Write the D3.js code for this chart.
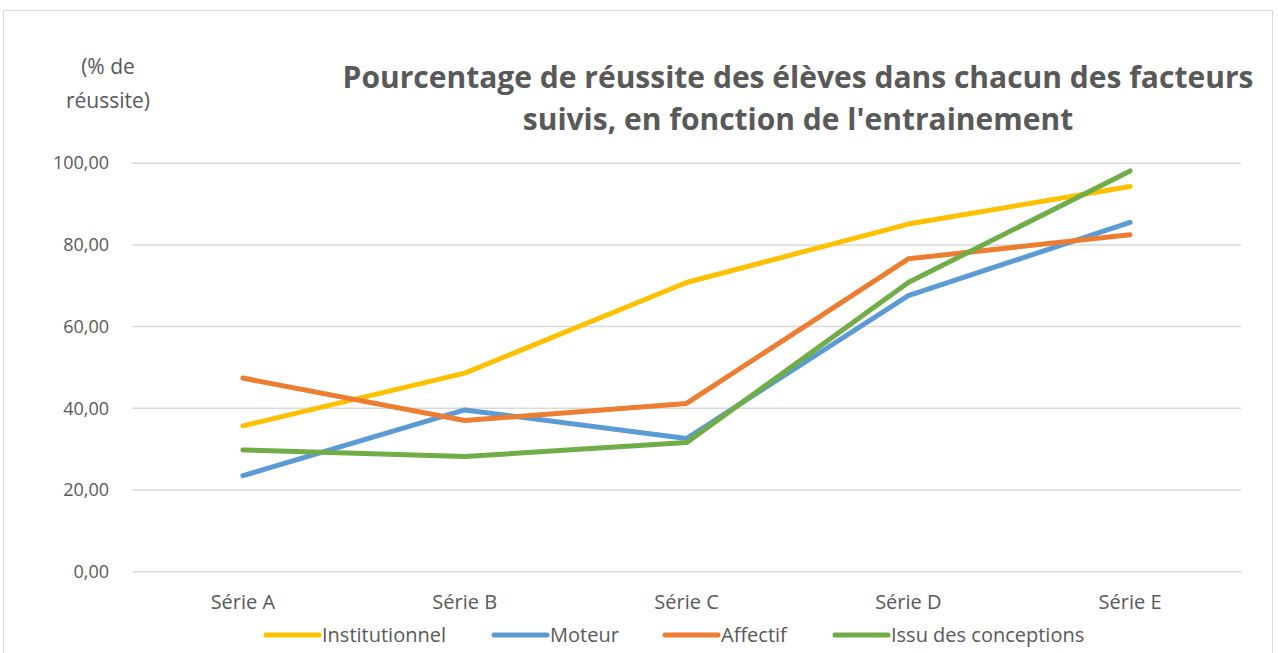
<!DOCTYPE html>
<html>
<head>
<meta charset="utf-8">
<script src="https://cdn.jsdelivr.net/npm/d3@7"></script>
<style>
  body { margin: 0; background: #fff; }
  svg { font-family: "Open Sans", "Liberation Sans", sans-serif; }
</style>
</head>
<body>
<svg id="chart"></svg>
<script>
const width = 1278;
const height = 653;

const categories = ["Série A", "Série B", "Série C", "Série D", "Série E"];
const seriesNames = ["Institutionnel", "Moteur", "Affectif", "Issu des conceptions"];
const institutionnel = [35.7, 48.6, 70.8, 85.1, 94.3];
const moteur = [23.5, 39.6, 32.6, 67.6, 85.5];
const affectif = [47.4, 37.0, 41.2, 76.6, 82.5];
const issuConceptions = [29.8, 28.2, 31.6, 70.8, 98.1];
const yTicks = [0, 20, 40, 60, 80, 100];
const colors = ["#FFC000", "#5B9BD5", "#ED7D31", "#70AD47"];

const series = [institutionnel, moteur, affectif, issuConceptions].map((values, i) => ({
    name: seriesNames[i],
    color: colors[i],
    values: values
}));

const plot = { left: 132, right: 1241, top: 163.2, bottom: 571.7 };

const svg = d3.select("#chart").attr("width", width).attr("height", height);

// chart frame
svg.append("rect")
    .attr("x", 3.5).attr("y", 10.5)
    .attr("width", 1269).attr("height", 660)
    .attr("fill", "white")
    .attr("stroke", "#d9d9d9");

const x = d3.scaleBand()
    .domain(categories)
    .range([plot.left, plot.right]);

const y = d3.scaleLinear()
    .domain([0, 100])
    .range([plot.bottom, plot.top]);

// gridlines
svg.append("g")
    .selectAll("line")
    .data(yTicks)
    .enter().append("line")
    .attr("x1", plot.left).attr("x2", plot.right)
    .attr("y1", d => y(d)).attr("y2", d => y(d))
    .attr("stroke", "#d9d9d9")
    .attr("stroke-width", 1.5);

// y axis labels
const yAxis = svg.append("g")
    .attr("transform", `translate(${plot.left - 23},0)`)
    .call(d3.axisLeft(y).tickValues(yTicks).tickSize(0).tickPadding(0)
        .tickFormat(d => d3.format(".2f")(d).replace(".", ",")));
yAxis.select(".domain").remove();
yAxis.selectAll("text")
    .attr("fill", "#595959")
    .style("font-size", "18px")
    .style("font-family", "'Open Sans', sans-serif");

// x axis labels
const xAxis = svg.append("g")
    .attr("transform", `translate(0,${plot.bottom + 19})`)
    .call(d3.axisBottom(x).tickSize(0).tickPadding(0));
xAxis.select(".domain").remove();
xAxis.selectAll("text")
    .attr("fill", "#595959")
    .attr("dy", "0.9em")
    .style("font-size", "20px")
    .style("font-family", "'Open Sans', sans-serif");

// axis title
svg.append("text")
    .attr("x", 108).attr("y", 74)
    .attr("text-anchor", "middle")
    .attr("fill", "#595959")
    .style("font-size", "21px")
    .selectAll("tspan")
    .data(["(% de", "réussite)"])
    .enter().append("tspan")
    .attr("x", 108)
    .attr("dy", (d, i) => i === 0 ? 0 : 34)
    .text(d => d);

// chart title
svg.append("text")
    .attr("x", 798).attr("y", 88)
    .attr("text-anchor", "middle")
    .attr("fill", "#595959")
    .style("font-size", "30px")
    .style("font-weight", "bold")
    .selectAll("tspan")
    .data(["Pourcentage de réussite des élèves dans chacun des facteurs", "suivis, en fonction de l'entrainement"])
    .enter().append("tspan")
    .attr("x", 798)
    .attr("dy", (d, i) => i === 0 ? 0 : 42)
    .text(d => d);

// lines
const line = d3.line()
    .x((d, i) => x(categories[i]) + x.bandwidth() / 2)
    .y(d => y(d));

svg.append("g")
    .selectAll("path")
    .data(series)
    .enter().append("path")
    .attr("d", d => line(d.values))
    .attr("fill", "none")
    .attr("stroke", d => d.color)
    .attr("stroke-width", 5)
    .attr("stroke-linecap", "round")
    .attr("stroke-linejoin", "round");

// legend
const legendX = [266, 494, 665, 835];
const legend = svg.append("g")
    .attr("transform", "translate(0,635)");

const item = legend.selectAll("g")
    .data(series)
    .enter().append("g")
    .attr("transform", (d, i) => `translate(${legendX[i]},0)`);

item.append("line")
    .attr("x1", 0).attr("x2", 53)
    .attr("stroke", d => d.color)
    .attr("stroke-width", 5)
    .attr("stroke-linecap", "round");

item.append("text")
    .attr("x", 56)
    .attr("dy", "0.35em")
    .attr("fill", "#595959")
    .style("font-size", "20px")
    .text(d => d.name);
</script>
</body>
</html>
